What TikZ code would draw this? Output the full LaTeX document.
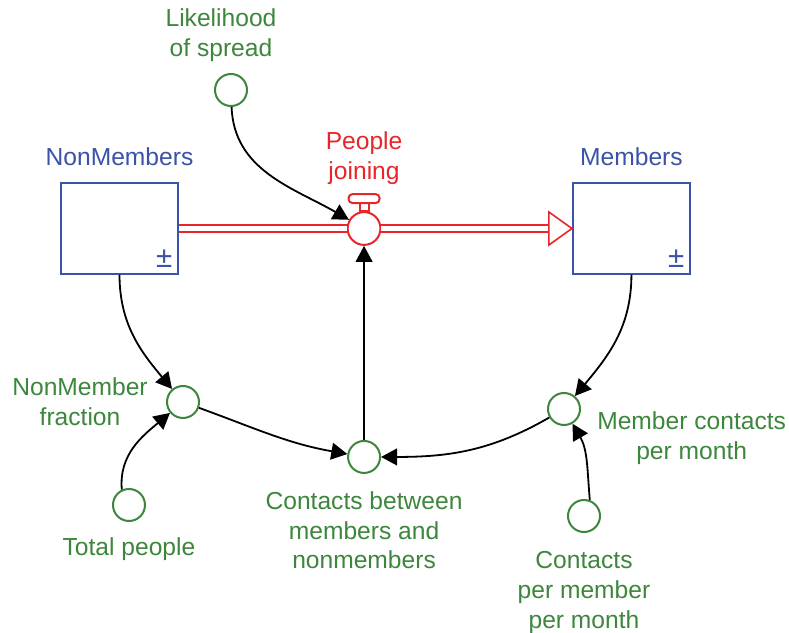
\documentclass[tikz,border=0pt]{standalone}
\usepackage{fontspec}
\setmainfont{Liberation Sans}
\usepackage{tikz}
\usetikzlibrary{arrows.meta, positioning, calc}
\definecolor{flowred}{RGB}{232,38,42}
\definecolor{auxgreen}{RGB}{61,134,61}
\definecolor{stockblue}{RGB}{58,82,168}

\begin{document}
\begin{tikzpicture}[
                x=0.025cm, y=0.025cm,
                stock/.style={rectangle, draw=stockblue, line width=0.05cm, fill=white, minimum width=2.925cm, minimum height=2.25cm},
                valve/.style={circle, draw=flowred, line width=0.05cm, fill=white, minimum size=0.82cm, inner sep=0pt},
                aux/.style={circle, draw=auxgreen, line width=0.05cm, fill=white, minimum size=0.8cm, inner sep=0pt},
                lbl/.style={inner sep=0pt, align=center, font=\fontsize{17.5}{21.3}\selectfont},
                stocklbl/.style={lbl, text=stockblue},
                flowlbl/.style={lbl, text=flowred},
                auxlbl/.style={lbl, text=auxgreen},
                pm/.style={inner sep=0pt, text=stockblue, font=\fontsize{21}{24}\selectfont},
                pipe/.style={draw=flowred, line width=0.04cm, double=white, double distance=0.13cm},
                pipehead/.style={draw=flowred, line width=0.04cm, fill=white, line join=miter},
                link/.style={line width=0.045cm, -{Triangle[length=0.4cm, width=0.42cm]}}
            ]%
            \useasboundingbox (0,0) rectangle (789,632);
            %
            % Stocks and flow
            \node[stock] (nonmem) at (119.5,403.5) {};
            \node[valve, right=4.19cm of nonmem] (valve) {};
            \node[stock, right=4.76cm of valve] (mem) {};
            \node[pm, above left=0.16cm and 0.16cm of nonmem.south east] (nonmempm) {±};
            \node[pm, above left=0.16cm and 0.16cm of mem.south east] (mempm) {±};
            %
            % Auxiliaries
            \node[aux, below=4.85cm of valve] (contacts) {};
            \node[aux] (likeli) at (231,542) {};
            \node[aux] (frac) at (183,230) {};
            \node[aux] (memcont) at (564,223) {};
            \node[aux] (total) at (129,127) {};
            \node[aux] (cpm) at (584,116) {};
            %
            % Labels
            \node[stocklbl, above=0.4cm of nonmem] (nonmemlbl) {NonMembers};
            \node[stocklbl, above=0.4cm of mem] (memlbl) {Members};
            \node[flowlbl, above=0.65cm of valve] (valvelbl) {People\\joining};
            \node[auxlbl, above=0.28cm of likeli, xshift=-0.25cm] (likelilbl) {Likelihood\\of spread};
            \node[auxlbl, left=0.45cm of frac] (fraclbl) {NonMember\\fraction};
            \node[auxlbl, right=0.4cm of memcont, yshift=-0.725cm] (memcontlbl) {Member contacts\\per month};
            \node[auxlbl, below=0.425cm of contacts] (contactslbl) {Contacts between\\members and\\nonmembers};
            \node[auxlbl, below=0.375cm of total] (totallbl) {Total people};
            \node[auxlbl, below=0.45cm of cpm] (cpmlbl) {Contacts\\per member\\per month};
            %
            % Pipe
            \draw[pipe] (nonmem.east) -- (valve.west);
            \draw[pipe] (valve.east) -- ($(mem.west)+(-23,0)$);
            \draw[pipehead] (mem.west) -- ++(-23,16.5) -- ++(0,-33) -- cycle;
            \draw[pipehead, line width=0.05cm] ($(valve.north)+(-4.5,0)$) rectangle ++(9,8);
            \draw[pipehead, line width=0.05cm, rounded corners=0.1cm] ($(valve.north)+(-15.5,8)$) rectangle ++(31,9);
            %
            % Links
            \draw[link] (likeli) to[out=-88, in=150] (valve);
            \draw[link] (contacts) -- (valve);
            \draw[link] (nonmem.south) to[out=-90, in=130] (frac);
            \draw[link] (total.115) to[out=95, in=-140] (frac);
            \draw[link] (frac) to[out=-20, in=170] (contacts);
            \draw[link] (memcont) to[out=-150, in=0] (contacts);
            \draw[link] (mem.south) to[out=-90, in=50] (memcont);
            \draw[link] (cpm.70) to[out=95, in=-60] (memcont);
        \end{tikzpicture}
\end{document}
